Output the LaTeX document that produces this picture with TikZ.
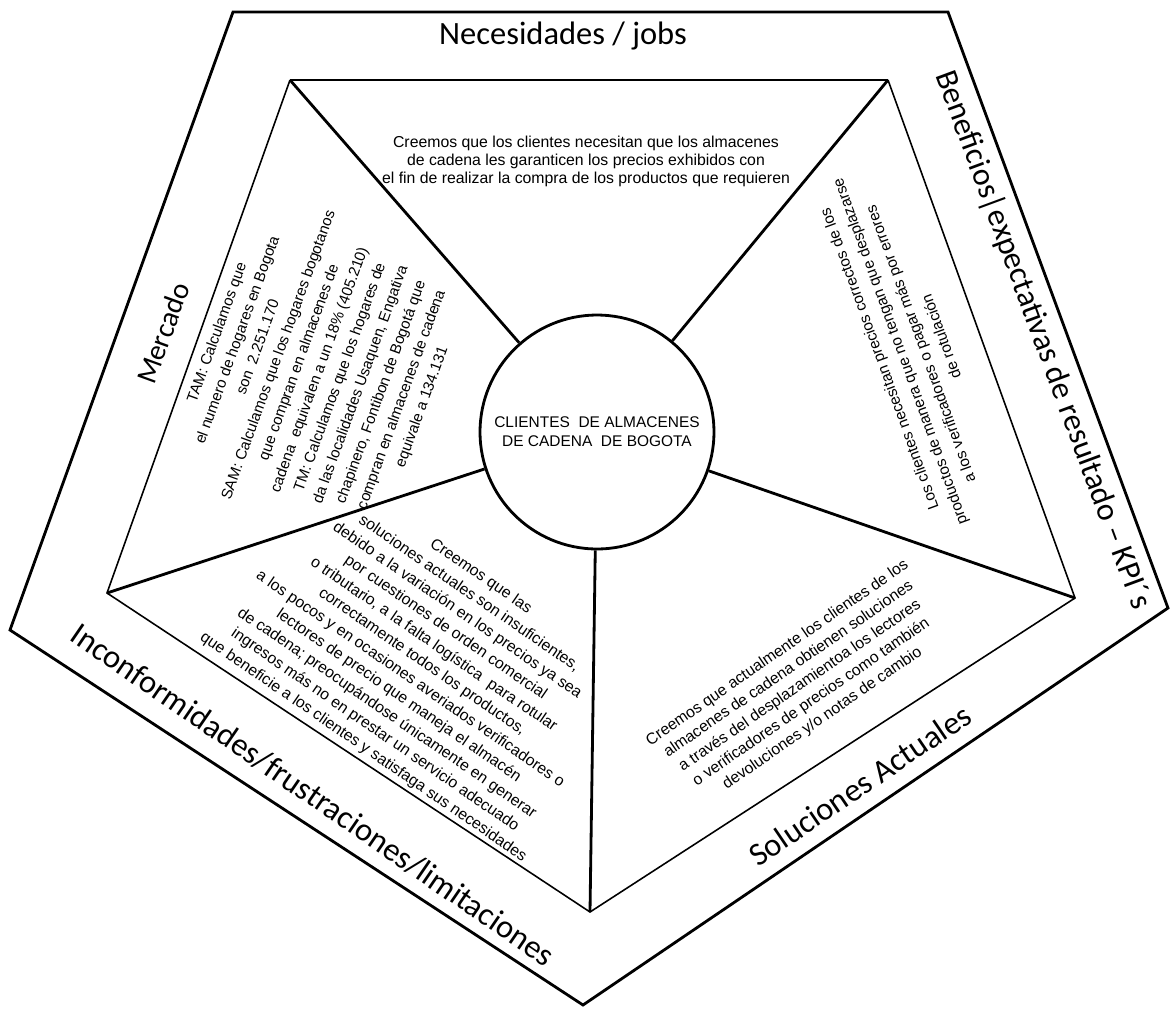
\documentclass[tikz,border=0pt]{standalone}
\usepackage{fontspec}
\setmainfont{Liberation Sans}
\newfontfamily\bandfont{Carlito}
\begin{document}
\begin{tikzpicture}[x=0.02cm,y=0.02cm,
  edge/.style={line width=1.6pt, line join=miter},
  thinedge/.style={line width=0.9pt, line join=miter},
  band/.style={font=\bandfont\fontsize{18.5}{22}\selectfont, inner sep=0pt},
  cell/.style={align=center, inner sep=0pt, font=\fontsize{9}{10.2}\selectfont}]
\useasboundingbox (0,0) rectangle (1171,-1009);

% Outer pentagon
\coordinate (o1) at (233,-12);
\coordinate (o2) at (948,-12);
\coordinate (o3) at (1168,-608);
\coordinate (o4) at (583,-1005);
\coordinate (o5) at (10,-630);
\draw[edge] (o1) -- (o2) -- (o3) -- (o4) -- (o5) -- cycle;

% Inner pentagon
\coordinate (i1) at (290,-80);
\coordinate (i2) at (888,-80);
\coordinate (i3) at (1075,-598);
\coordinate (i4) at (590,-912);
\coordinate (i5) at (107,-593);
\draw[edge] (i1) -- (i2);
\draw[thinedge] (i2) -- (i3) -- (i4) -- (i5) -- (i1);

% Customer segment
\node[draw, circle, line width=1.6pt, minimum size=4.68cm, inner sep=0pt, align=center,
  font=\fontsize{8.8}{10.8}\selectfont] (ctr) at (597,-432)
  {CLIENTES\ \ DE ALMACENES\\DE CADENA\ \ DE BOGOTA};

% Spokes
\foreach \v in {i1,i2,i3,i4,i5}
  \draw[edge] (\v) -- (ctr);

% Band titles
\node[band] (needs) at (563,-36) {Necesidades / jobs};
\node[band, rotate=70, font=\bandfont\fontsize{16.5}{20}\selectfont] (market) at (163,-333) {Mercado};
\node[band, rotate=-69.7, font=\bandfont\fontsize{18.2}{22}\selectfont] (gains) at (1043,-340)
  {Beneficios|expectativas de resultado – KPI´s};
\node[band, rotate=34.2] (current) at (860,-785) {Soluciones Actuales};
\node[band, rotate=-34.5] (pains) at (313,-795) {Inconformidades/frustraciones/limitaciones};

% Cell texts
\node[cell] (needstext) at (586,-161)
  {Creemos que los clientes necesitan que los almacenes\\
   de cadena les garanticen los precios exhibidos con\\
   el fin de realizar la compra de los productos que requieren};
\node[cell, rotate=70, font=\fontsize{8.6}{12.4}\selectfont] (markettext) at (320,-370)
  {TAM: Calculamos que\\
   el numero de hogares en Bogota\\
   son\ \ 2.251.170\\
   SAM: Calculamos que los hogares bogotanos\\
   que compran en almacenes de\\
   cadena\ \ equivalen a un 18\% (405.210)\\
   TM: Calculamos que los hogares de\\
   da las localidades Usaquen, Engativa\\
   chapinero, Fontibon de Bogotá que\\
   compran en almacenes de cadena\\
   equivale a 134.131};
\node[cell, rotate=110, font=\fontsize{8.8}{12.5}\selectfont] (gainstext) at (910,-348)
  {Los clientes necesitan precios correctos de los\\
   productos de manera que no tengan que desplazarse\\
   a los verificadores o pagar más por errores\\
   de rotulación};
\node[cell, rotate=34.6, font=\fontsize{9}{11.3}\selectfont] (currenttext) at (800,-686)
  {Creemos que actualmente los clientes de los\\
   almacenes de cadena obtienen soluciones\\
   a través del desplazamientoa los lectores\\
   o verificadores de precios como también\\
   devoluciones y/o notas de cambio};
\node[cell, rotate=-34.5, font=\fontsize{9}{11.8}\selectfont] (painstext) at (422,-662)
  {Creemos que las\\
   soluciones actuales son insuficientes,\\
   debido a la variación en los precios ya sea\\
   por cuestiones de orden comercial\\
   o tributario, a la falta logística\ \ para rotular\\
   correctamente todos los productos,\\
   a los pocos y en ocasiones averiados verificadores o\\
   lectores de precio que maneja el almacén\\
   de cadena; preocupándose únicamente en generar\\
   ingresos más no en prestar un servicio adecuado\\
   que beneficie a los clientes y satisfaga sus necesidades};
\end{tikzpicture}
\end{document}
